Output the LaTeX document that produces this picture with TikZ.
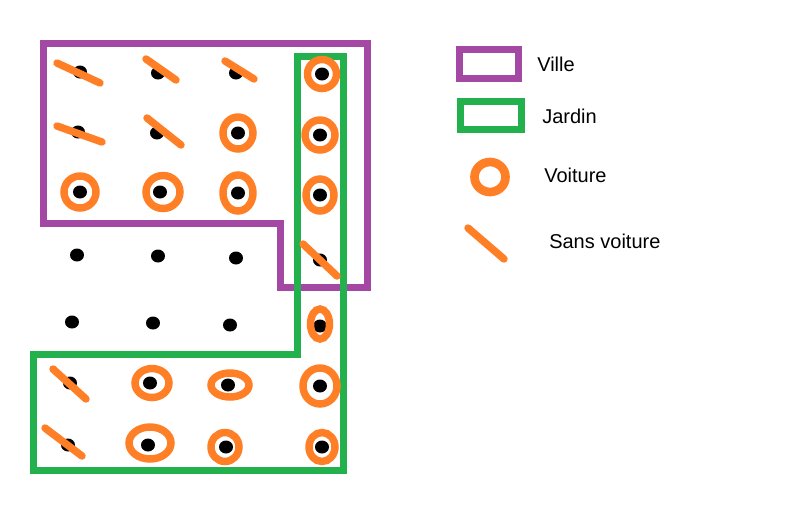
\documentclass[tikz,border=0pt]{standalone}
\usepackage{fontspec}
\setmainfont{Liberation Sans}
\definecolor{villec}{RGB}{163,73,164}
\definecolor{jardinc}{RGB}{34,177,76}
\definecolor{autoc}{RGB}{255,127,39}
\begin{document}
\begin{tikzpicture}[x=0.75pt,y=-0.75pt,
  ville/.style={draw=villec,line width=5.25pt,line join=miter},
  jardin/.style={draw=jardinc,line width=5.25pt,line join=miter},
  ring/.style={draw=autoc,line width=5.6pt},
  nocar/.style={draw=autoc,line width=5.6pt,line cap=round},
  pt/.style={fill=black},
  lab/.style={anchor=west,inner sep=0pt,font=\fontsize{15}{18}\selectfont}]
\useasboundingbox[fill=white] (0,0) rectangle (800,519);
% Ville
\draw[ville] (43,43) -- (367,43) -- (367,287) -- (280,287) -- (280,223) -- (43,223) -- cycle;
% Jardin
\draw[jardin] (297,56) -- (343,56) -- (343,470) -- (33,470) -- (33,354) -- (297,354) -- cycle;
% dots
\foreach \x/\y in {80/72,158/73,236/73,322/74,
                   78/132,157/133,238/133,320/135,
                   80/192,160/192,238/193,320/195,
                   77/255,158/256,236/258,320/260,
                   72/322,153/323,230/325,320/326,
                   70/383,150/383,228/385,320/386,
                   68/445,148/445,226/447,322/447}
  \fill[pt] (\x,\y) ellipse (7 and 6.5);
% sans voiture
\draw[nocar] (57,63) -- (100,83);
\draw[nocar] (146,59) -- (176,80);
\draw[nocar] (225,61) -- (254,79);
\draw[nocar] (57,126) -- (102,142);
\draw[nocar] (147,118) -- (181,145);
\draw[nocar] (303,244) -- (337,276);
\draw[nocar] (53,369) -- (86,399);
\draw[nocar] (45,428) -- (82,456);
% voiture
\draw[ring] (322,74) ellipse (14.5 and 14.5);
\draw[ring] (238,133) ellipse (15 and 16);
\draw[ring] (320,135) ellipse (15 and 15);
\draw[ring] (80,192) ellipse (16 and 16);
\draw[ring] (163,192) ellipse (17 and 16.5);
\draw[ring] (238,193) ellipse (15 and 18);
\draw[ring] (320,195) ellipse (14 and 16);
\draw[ring] (320,324) ellipse (9.5 and 15);
\draw[ring] (152,383) ellipse (17 and 14.5);
\draw[ring] (230,385) ellipse (19 and 12);
\draw[ring] (320,386) ellipse (17 and 18);
\draw[ring] (150,443) ellipse (21 and 16);
\draw[ring] (225,447) ellipse (14 and 14.5);
\draw[ring] (322,447) ellipse (13 and 14.5);
% legend
\draw[ville] (459.5,49.5) rectangle (518.5,78.5);
\draw[jardin] (460.5,101.5) rectangle (521.5,129.5);
\draw[ring,line width=6.5pt] (490,177) ellipse (15.5 and 15);
\draw[nocar] (468,228) -- (504,259);
\node[lab] (lville) at (537,64) {Ville};
\node[lab] (ljardin) at (542,116) {Jardin};
\node[lab] (lvoiture) at (544,175) {Voiture};
\node[lab] (lsans) at (549,241) {Sans voiture};
\end{tikzpicture}
\end{document}
